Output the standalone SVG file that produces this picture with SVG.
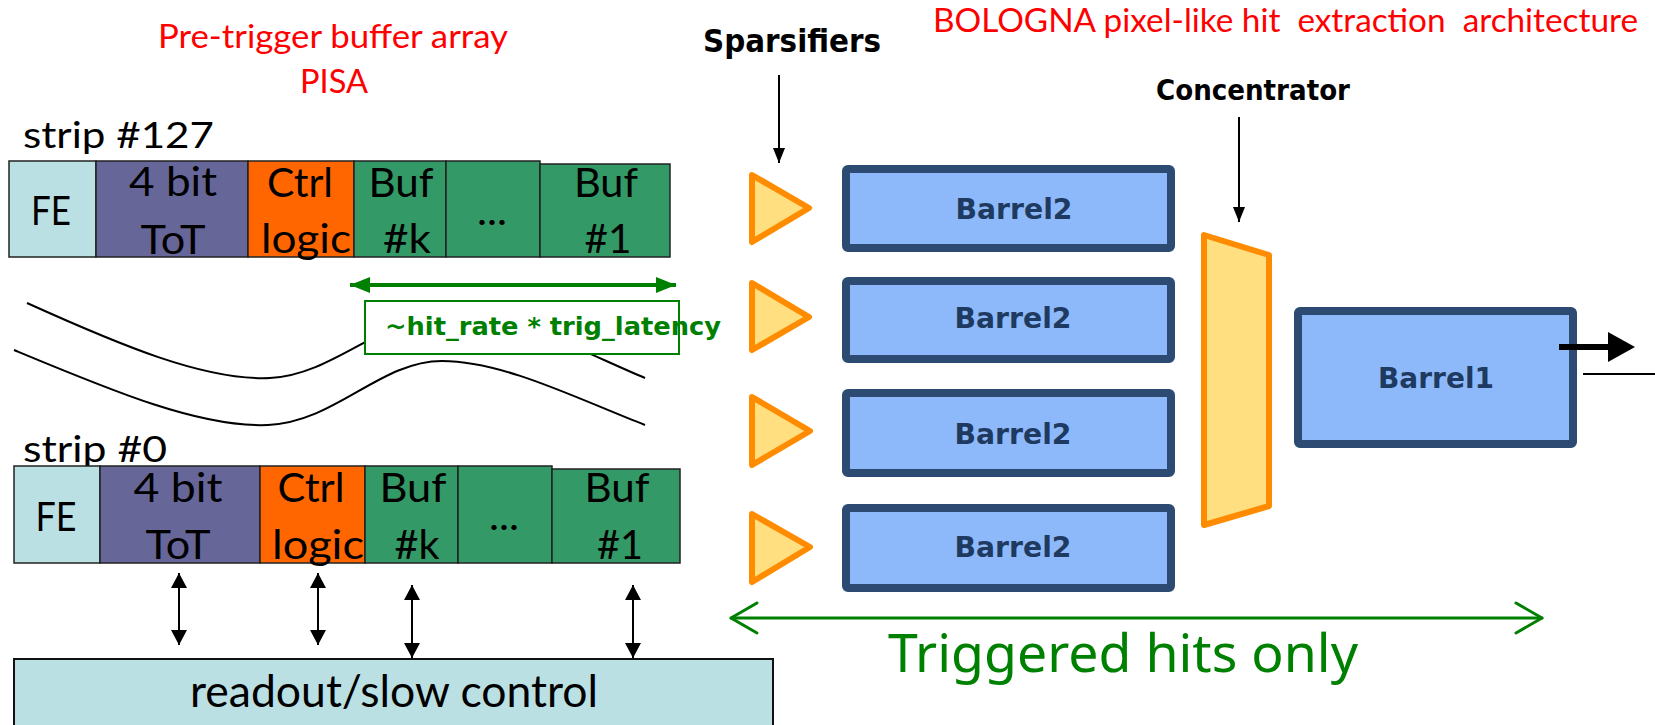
<svg xmlns="http://www.w3.org/2000/svg" width="1655" height="725" viewBox="0 0 1655 725">
<defs>
<style>
.cal{font-family:Lato,"Liberation Sans",sans-serif;}
.cell{stroke:#222;stroke-width:1.5;}
.fe{fill:#BBE0E3;}
.tot{fill:#666699;}
.ctrl{fill:#FF6600;}
.buf{fill:#339966;}
.t38{font-size:40px;fill:#000;text-anchor:middle;}
.red{fill:#FF0000;font-size:33px;}
.bold{font-family:"DejaVu Sans","Liberation Sans",sans-serif;font-weight:bold;fill:#000;}
.barrel{fill:#8DB9FB;stroke:#2C4A72;stroke-width:8;}
.blab{font-family:"DejaVu Sans","Liberation Sans",sans-serif;font-weight:bold;font-size:29px;fill:#1F3A60;text-anchor:middle;}
.spars{fill:#FFDF80;stroke:#FF8C00;stroke-width:6;stroke-linejoin:round;}
.thin{stroke:#000;stroke-width:2;fill:none;}
.green{fill:#008000;}
</style>
<marker id="ah" markerUnits="userSpaceOnUse" markerWidth="15" markerHeight="12" refX="15" refY="6" viewBox="0 0 15 12" orient="auto-start-reverse">
<path d="M0,0 L15,6 L0,12 z" fill="#000"/>
</marker>
<marker id="dh" markerUnits="userSpaceOnUse" markerWidth="15" markerHeight="16" refX="15" refY="8" viewBox="0 0 15 16" orient="auto-start-reverse">
<path d="M0,0 L15,8 L0,16 z" fill="#000"/>
</marker>
<marker id="gh" markerUnits="userSpaceOnUse" markerWidth="20" markerHeight="16" refX="20" refY="8" viewBox="0 0 20 16" orient="auto-start-reverse">
<path d="M0,0 L20,8 L0,16 z" fill="#008000"/>
</marker>
</defs>
<rect width="1655" height="725" fill="#fff"/>

<!-- titles -->
<g id="title-pisa">
<text class="cal red" x="333" y="48" text-anchor="middle" textLength="350" lengthAdjust="spacingAndGlyphs">Pre-trigger buffer array</text>
<text class="cal red" x="334" y="93" text-anchor="middle" textLength="68" lengthAdjust="spacingAndGlyphs">PISA</text>
</g>
<g id="title-bologna">
<text class="cal red" x="933" y="32" style="white-space:pre" textLength="705" lengthAdjust="spacingAndGlyphs">BOLOGNA pixel-like hit  extraction  architecture</text>
</g>

<!-- strip 127 -->
<g id="strip127">
<text class="cal" x="23" y="148" font-size="36" textLength="191" lengthAdjust="spacingAndGlyphs">strip #127</text>
<rect class="cell fe" x="9" y="161" width="87" height="96"/>
<rect class="cell tot" x="96" y="161" width="152" height="96"/>
<rect class="cell ctrl" x="248" y="161" width="106" height="96"/>
<rect class="cell buf" x="354" y="161" width="92" height="96"/>
<rect class="cell buf" x="446" y="161" width="94" height="96"/>
<rect class="cell buf" x="540" y="164" width="130" height="93"/>
<text class="cal t38" x="51" y="225" textLength="40" lengthAdjust="spacingAndGlyphs">FE</text>
<text class="cal t38" x="173" y="196" textLength="88" lengthAdjust="spacingAndGlyphs">4 bit</text>
<text class="cal t38" x="173" y="254" textLength="65" lengthAdjust="spacingAndGlyphs">ToT</text>
<text class="cal t38" x="300" y="197" textLength="66" lengthAdjust="spacingAndGlyphs">Ctrl</text>
<text class="cal t38" x="306" y="253" textLength="90" lengthAdjust="spacingAndGlyphs">logic</text>
<text class="cal t38" x="401" y="197" textLength="65" lengthAdjust="spacingAndGlyphs">Buf</text>
<text class="cal t38" x="407" y="253" textLength="48" lengthAdjust="spacingAndGlyphs">#k</text>
<text class="cal t38" x="492" y="225" textLength="30" lengthAdjust="spacingAndGlyphs">...</text>
<text class="cal t38" x="606" y="197" textLength="64" lengthAdjust="spacingAndGlyphs">Buf</text>
<text class="cal t38" x="608" y="253" textLength="47" lengthAdjust="spacingAndGlyphs">#1</text>
</g>

<!-- strip 0 -->
<g id="strip0">
<text class="cal" x="23" y="462" font-size="36" textLength="144" lengthAdjust="spacingAndGlyphs">strip #0</text>
<rect class="cell fe" x="14" y="466" width="86" height="97"/>
<rect class="cell tot" x="100" y="466" width="160" height="97"/>
<rect class="cell ctrl" x="260" y="466" width="105" height="97"/>
<rect class="cell buf" x="365" y="466" width="93" height="97"/>
<rect class="cell buf" x="458" y="466" width="94" height="97"/>
<rect class="cell buf" x="552" y="469" width="128" height="94"/>
<text class="cal t38" x="56" y="531" textLength="41" lengthAdjust="spacingAndGlyphs">FE</text>
<text class="cal t38" x="178" y="502" textLength="89" lengthAdjust="spacingAndGlyphs">4 bit</text>
<text class="cal t38" x="178" y="559" textLength="65" lengthAdjust="spacingAndGlyphs">ToT</text>
<text class="cal t38" x="311" y="502" textLength="67" lengthAdjust="spacingAndGlyphs">Ctrl</text>
<text class="cal t38" x="318" y="559" textLength="92" lengthAdjust="spacingAndGlyphs">logic</text>
<text class="cal t38" x="413" y="502" textLength="67" lengthAdjust="spacingAndGlyphs">Buf</text>
<text class="cal t38" x="417" y="559" textLength="45" lengthAdjust="spacingAndGlyphs">#k</text>
<text class="cal t38" x="504" y="530" textLength="30" lengthAdjust="spacingAndGlyphs">...</text>
<text class="cal t38" x="617" y="502" textLength="65" lengthAdjust="spacingAndGlyphs">Buf</text>
<text class="cal t38" x="620" y="559" textLength="46" lengthAdjust="spacingAndGlyphs">#1</text>
</g>

<!-- break lines -->
<g id="break-curves">
<path class="thin" d="M14,350 C110,390 200,428 268,425 S380,361 442,361 S580,400 645,425"/>
<path class="thin" d="M27,303 C120,345 205,381 270,378 S385,314 450,314 S585,353 645,378"/>
</g>

<!-- latency label -->
<g id="latency">
<rect x="365" y="301" width="314" height="53" fill="#fff" stroke="#008000" stroke-width="2"/>
<text class="green" x="385" y="335" font-family="'DejaVu Sans','Liberation Sans',sans-serif" font-weight="bold" font-size="25" textLength="336" lengthAdjust="spacingAndGlyphs">~hit_rate * trig_latency</text>
</g>

<!-- readout -->
<g id="readout">
<rect x="14" y="659" width="759" height="70" fill="#BBE0E3" stroke="#111" stroke-width="2"/>
<text class="cal" x="394" y="707" font-size="44" text-anchor="middle" textLength="408" lengthAdjust="spacingAndGlyphs">readout/slow control</text>
</g>

<!-- sparsifiers -->
<g id="sparsifiers-label">
<text class="bold" x="703" y="52" font-size="32" textLength="178" lengthAdjust="spacingAndGlyphs">Sparsifiers</text>
</g>
<g id="sparsifier1"><path class="spars" d="M752,175 L809,208 L752,242 Z"/></g>
<g id="sparsifier2"><path class="spars" d="M752,283 L809,317 L752,350 Z"/></g>
<g id="sparsifier3"><path class="spars" d="M752,397 L810,431 L752,465 Z"/></g>
<g id="sparsifier4"><path class="spars" d="M752,514 L810,547 L752,582 Z"/></g>

<!-- barrel2 -->
<g id="barrel2-1"><rect class="barrel" x="846" y="169" width="325" height="79" rx="2"/><text class="blab" x="1014" y="219" textLength="117" lengthAdjust="spacingAndGlyphs">Barrel2</text></g>
<g id="barrel2-2"><rect class="barrel" x="846" y="281" width="325" height="78" rx="2"/><text class="blab" x="1013" y="328" textLength="117" lengthAdjust="spacingAndGlyphs">Barrel2</text></g>
<g id="barrel2-3"><rect class="barrel" x="846" y="393" width="325" height="80" rx="2"/><text class="blab" x="1013" y="444" textLength="117" lengthAdjust="spacingAndGlyphs">Barrel2</text></g>
<g id="barrel2-4"><rect class="barrel" x="846" y="508" width="325" height="80" rx="2"/><text class="blab" x="1013" y="557" textLength="117" lengthAdjust="spacingAndGlyphs">Barrel2</text></g>

<!-- concentrator -->
<g id="concentrator-label">
<text class="bold" x="1156" y="100" font-size="29" textLength="194" lengthAdjust="spacingAndGlyphs">Concentrator</text>
</g>
<g id="concentrator">
<path class="spars" d="M1204,235 L1269,255 L1269,506 L1204,525 Z"/>
</g>

<!-- barrel1 -->
<g id="barrel1"><rect class="barrel" x="1298" y="311" width="275" height="133" rx="2"/><text class="blab" x="1436" y="388" textLength="116" lengthAdjust="spacingAndGlyphs">Barrel1</text></g>

<!-- connectors -->
<g id="connectors">
<line class="thin" x1="779" y1="75" x2="779" y2="163" marker-end="url(#ah)"/>
<line class="thin" x1="1239" y1="117" x2="1239" y2="222" marker-end="url(#ah)"/>
<line class="thin" x1="179" y1="573" x2="179" y2="645" marker-start="url(#dh)" marker-end="url(#dh)"/>
<line class="thin" x1="318" y1="573" x2="318" y2="645" marker-start="url(#dh)" marker-end="url(#dh)"/>
<line class="thin" x1="412" y1="585" x2="412" y2="658" marker-start="url(#dh)" marker-end="url(#dh)"/>
<line class="thin" x1="633" y1="585" x2="633" y2="658" marker-start="url(#dh)" marker-end="url(#dh)"/>
<line x1="350" y1="285" x2="676" y2="285" stroke="#008000" stroke-width="4" marker-start="url(#gh)" marker-end="url(#gh)"/>
<line x1="1559" y1="347" x2="1612" y2="347" stroke="#000" stroke-width="6"/>
<path d="M1608,332 L1635,347 L1608,362 Z" fill="#000"/>
<line x1="1583" y1="374" x2="1655" y2="374" stroke="#000" stroke-width="2"/>
<g stroke="#008000" stroke-width="3" fill="none" stroke-linecap="round" stroke-linejoin="round">
<line x1="731" y1="618" x2="1542" y2="618"/>
<polyline points="757,603 731,618 757,633"/>
<polyline points="1516,603 1542,618 1516,633"/>
</g>
</g>

<g id="triggered-label">
<text class="green" x="888" y="672" font-family="'Noto Sans','DejaVu Sans',sans-serif" font-size="53" textLength="470" lengthAdjust="spacingAndGlyphs">Triggered hits only</text>
</g>
</svg>
